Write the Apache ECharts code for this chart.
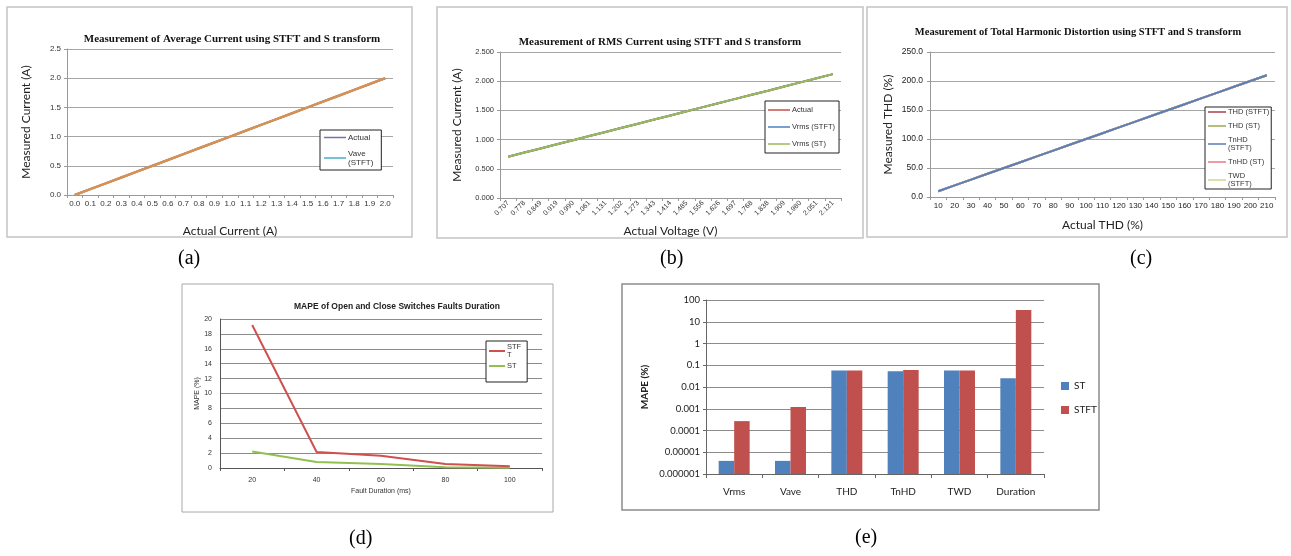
<!DOCTYPE html>
<html>
<head>
<meta charset="utf-8">
<script src="https://cdn.jsdelivr.net/npm/echarts@6/dist/echarts.min.js"></script>
<style>
html,body{margin:0;padding:0;background:#fff;}
#chart{width:1291px;height:556px;}
</style>
</head>
<body>
<div id="chart"></div>
<script>
// ---- Panel (a): Average current ----
const aCats = ['0.0','0.1','0.2','0.3','0.4','0.5','0.6','0.7','0.8','0.9','1.0','1.1','1.2','1.3','1.4','1.5','1.6','1.7','1.8','1.9','2.0'];
const aActual   = [0.0,0.1,0.2,0.3,0.4,0.5,0.6,0.7,0.8,0.9,1.0,1.1,1.2,1.3,1.4,1.5,1.6,1.7,1.8,1.9,2.0];
const aVaveSTFT = [0.0,0.1,0.2,0.3,0.4,0.5,0.6,0.7,0.8,0.9,1.0,1.1,1.2,1.3,1.4,1.5,1.6,1.7,1.8,1.9,2.0];
const aVaveST   = [0.0,0.1,0.2,0.3,0.4,0.5,0.6,0.7,0.8,0.9,1.0,1.1,1.2,1.3,1.4,1.5,1.6,1.7,1.8,1.9,2.0];

// ---- Panel (b): RMS current ----
const bCats = ['0.707','0.778','0.849','0.919','0.990','1.061','1.131','1.202','1.273','1.343','1.414','1.485','1.556','1.626','1.697','1.768','1.838','1.909','1.980','2.051','2.121'];
const bActual   = [0.707,0.778,0.849,0.919,0.990,1.061,1.131,1.202,1.273,1.343,1.414,1.485,1.556,1.626,1.697,1.768,1.838,1.909,1.980,2.051,2.121];
const bVrmsSTFT = [0.707,0.778,0.849,0.919,0.990,1.061,1.131,1.202,1.273,1.343,1.414,1.485,1.556,1.626,1.697,1.768,1.838,1.909,1.980,2.051,2.121];
const bVrmsST   = [0.707,0.778,0.849,0.919,0.990,1.061,1.131,1.202,1.273,1.343,1.414,1.485,1.556,1.626,1.697,1.768,1.838,1.909,1.980,2.051,2.121];

// ---- Panel (c): THD ----
const cCats = ['10','20','30','40','50','60','70','80','90','100','110','120','130','140','150','160','170','180','190','200','210'];
const cTHDSTFT  = [10,20,30,40,50,60,70,80,90,100,110,120,130,140,150,160,170,180,190,200,210];
const cTHDST    = [10,20,30,40,50,60,70,80,90,100,110,120,130,140,150,160,170,180,190,200,210];
const cTnHDSTFT = [10,20,30,40,50,60,70,80,90,100,110,120,130,140,150,160,170,180,190,200,210];
const cTnHDST   = [10,20,30,40,50,60,70,80,90,100,110,120,130,140,150,160,170,180,190,200,210];
const cTWDSTFT  = [10,20,30,40,50,60,70,80,90,100,110,120,130,140,150,160,170,180,190,200,210];

// ---- Panel (d): MAPE of fault duration ----
const dCats = ['20','40','60','80','100'];
const dSTFT = [19.2,2.15,1.65,0.54,0.22];
const dST   = [2.2,0.8,0.54,0.09,0.05];

// ---- Panel (e): MAPE bar chart (log) ----
const eCats = ['Vrms','Vave','THD','TnHD','TWD','Duration'];
const eST   = [0.000004,0.000004,0.057,0.053,0.057,0.025];
const eSTFT = [0.00027,0.0012,0.057,0.061,0.057,35];
// invisible stack base below the log axis minimum so bars rise from the axis floor
const eBase = [1e-8,1e-8,1e-8,1e-8,1e-8,1e-8];

const SERIF = '"Liberation Serif","Times New Roman",serif';
const SANS = '"Liberation Sans",Arial,sans-serif';
const CAL = 'Lato,"Open Sans",sans-serif';
const gridCol = '#A6A6A6';

const C = {
  aActual: '#7A6FA8', aSTFT: '#4BACC6', aST: '#D99050',
  bActual: '#C0504D', bSTFT: '#4F81BD', bST: '#9BBB59',
  cTHDSTFT: '#A9404E', cTHDST: '#9BAA50', cTnHDSTFT: '#5B7EBB', cTnHDST: '#E27C8C', cTWD: '#C8D890',
  dSTFT: '#D0504D', dST: '#92C050',
  eST: '#4F81BD', eSTFT: '#C0504D'
};

function valAxis(gi, min, max, interval, dec, name, gap, extra) {
  return Object.assign({
    type: 'value', gridIndex: gi, min: min, max: max, interval: interval,
    name: name, nameLocation: 'middle', nameGap: gap, nameRotate: 90,
    nameTextStyle: {fontFamily: CAL, fontSize: 12, color: '#222'},
    axisLine: {show: true, lineStyle: {color: '#999', width: 1}},
    axisTick: {show: true, length: 3, lineStyle: {color: '#999'}},
    axisLabel: {fontFamily: SANS, fontSize: 7.5, color: '#333', margin: 6,
      formatter: v => v.toFixed(dec)},
    splitLine: {show: true, lineStyle: {color: gridCol, width: 1}}
  }, extra || {});
}
function catAxis(gi, cats, name, gap, extra) {
  return Object.assign({
    type: 'category', gridIndex: gi, data: cats, boundaryGap: true,
    name: name, nameLocation: 'middle', nameGap: gap,
    nameTextStyle: {fontFamily: CAL, fontSize: 12, color: '#222'},
    axisLine: {show: true, lineStyle: {color: '#999', width: 1}},
    axisTick: {show: true, length: 3, lineStyle: {color: '#999'}},
    axisLabel: {interval: 0, fontFamily: SANS, fontSize: 7.5, color: '#333', margin: 5},
    splitLine: {show: false}
  }, extra || {});
}
function line(name, xi, data, color, width, z) {
  return {type: 'line', name: name, xAxisIndex: xi, yAxisIndex: xi, data: data,
    symbol: 'none', lineStyle: {color: color, width: width}, itemStyle: {color: color},
    z: z || 2, animation: false};
}
function li(name, color) {
  return {name: name, icon: 'rect', itemStyle: {color: color, borderWidth: 0}};
}

const logFmt = v => {
  const e = Math.round(Math.log10(v));
  return e < 0 ? Math.pow(10, e).toFixed(-e) : String(Math.round(Math.pow(10, e)));
};

const option = {
  backgroundColor: '#fff',
  animation: false,
  title: [
    {text: 'Measurement of Average Current using STFT and S transform', left: 232, top: 34, textAlign: 'center', padding: 0,
      textStyle: {fontFamily: SERIF, fontWeight: 'bold', fontSize: 11, color: '#111'}},
    {text: 'Measurement of RMS Current using STFT and S transform', left: 660, top: 37, textAlign: 'center', padding: 0,
      textStyle: {fontFamily: SERIF, fontWeight: 'bold', fontSize: 11, color: '#111'}},
    {text: 'Measurement of Total Harmonic Distortion using STFT and S transform', left: 1078, top: 27, textAlign: 'center', padding: 0,
      textStyle: {fontFamily: SERIF, fontWeight: 'bold', fontSize: 10.5, color: '#111'}},
    {text: 'MAPE of Open and Close Switches Faults Duration', left: 397, top: 302, textAlign: 'center', padding: 0,
      textStyle: {fontFamily: SANS, fontWeight: 'bold', fontSize: 8.5, color: '#222'}}
  ],
  grid: [
    {left: 67, top: 49, width: 326, height: 146},
    {left: 500, top: 52, width: 341, height: 146},
    {left: 930, top: 52, width: 345, height: 145},
    {left: 220, top: 319, width: 322, height: 149},
    {left: 706, top: 300, width: 338, height: 174}
  ],
  xAxis: [
    catAxis(0, aCats, 'Actual Current (A)', 30, {axisLabel: {interval: 0, fontFamily: SANS, fontSize: 8, color: '#333', margin: 5}}),
    catAxis(1, bCats, 'Actual Voltage (V)', 27, {axisLabel: {interval: 0, rotate: 45, fontFamily: SANS, fontSize: 7, color: '#333', margin: 4}}),
    catAxis(2, cCats, 'Actual THD (%)', 22, {axisLabel: {interval: 0, fontFamily: SANS, fontSize: 8, color: '#222', margin: 5}}),
    catAxis(3, dCats, 'Fault Duration (ms)', 20, {
      nameTextStyle: {fontFamily: SANS, fontSize: 7, color: '#333'},
      axisLine: {show: true, lineStyle: {color: '#555', width: 1}},
      axisTick: {show: true, length: 3, lineStyle: {color: '#555'}},
      axisLabel: {interval: 0, fontFamily: SANS, fontSize: 7, color: '#333', margin: 9}}),
    catAxis(4, eCats, '', 0, {
      axisLine: {show: true, lineStyle: {color: '#666', width: 1}},
      axisTick: {show: true, length: 4, lineStyle: {color: '#666'}},
      axisLabel: {interval: 0, fontFamily: CAL, fontSize: 10, color: '#222', margin: 13}})
  ],
  yAxis: [
    valAxis(0, 0, 2.5, 0.5, 1, 'Measured Current (A)', 35, {axisLabel: {fontFamily: SANS, fontSize: 8, color: '#333', margin: 6, formatter: v => v.toFixed(1)}}),
    valAxis(1, 0, 2.5, 0.5, 3, 'Measured Current (A)', 37),
    valAxis(2, 0, 250, 50, 1, 'Measured THD (%)', 36, {axisLabel: {fontFamily: SANS, fontSize: 8.5, color: '#222', margin: 7, formatter: v => v.toFixed(1)}}),
    valAxis(3, 0, 20, 2, 0, 'MAPE (%)', 16, {
      nameTextStyle: {fontFamily: SANS, fontSize: 7, color: '#333'},
      axisLine: {show: true, lineStyle: {color: '#555'}},
      axisTick: {show: false},
      axisLabel: {fontFamily: SANS, fontSize: 7, color: '#333', margin: 8, formatter: v => String(v)},
      splitLine: {show: true, lineStyle: {color: '#8C8C8C', width: 1}}}),
    {type: 'log', gridIndex: 4, logBase: 10, min: 0.000001, max: 100, splitNumber: 8,
      name: 'MAPE (%)', nameLocation: 'middle', nameGap: 56, nameRotate: 90,
      nameTextStyle: {fontFamily: CAL, fontSize: 10, fontWeight: 'bold', color: '#222'},
      axisLine: {show: true, lineStyle: {color: '#666'}},
      axisTick: {show: true, length: 3, lineStyle: {color: '#666'}},
      axisLabel: {fontFamily: CAL, fontSize: 9.5, color: '#222', margin: 6, formatter: logFmt},
      splitLine: {show: true, lineStyle: {color: '#8C8C8C', width: 1}}}
  ],
  legend: [
    {data: [li('Actual', C.aActual), li('Vave (STFT)', C.aSTFT)], left: 320, top: 130, orient: 'vertical',
      backgroundColor: '#fff', borderColor: '#222', borderWidth: 1, padding: [3, 8, 3, 4], itemGap: 7,
      itemWidth: 22, itemHeight: 1.5,
      formatter: n => n === 'Vave (STFT)' ? 'Vave\n(STFT)' : n,
      textStyle: {fontFamily: SANS, fontSize: 8, color: '#333', padding: [0, 0, 0, -3], lineHeight: 9}},
    {data: [li('Actual', C.bActual), li('Vrms (STFT)', C.bSTFT), li('Vrms (ST)', C.bST)], left: 765, top: 101, orient: 'vertical',
      backgroundColor: '#fff', borderColor: '#222', borderWidth: 1, padding: [5, 4, 5, 3], itemGap: 9,
      itemWidth: 22, itemHeight: 1.5,
      textStyle: {fontFamily: SANS, fontSize: 7.5, color: '#333', padding: [0, 0, 0, -3]}},
    {data: [li('THD (STFT)', C.cTHDSTFT), li('THD (ST)', C.cTHDST), li('TnHD (STFT)', C.cTnHDSTFT), li('TnHD (ST)', C.cTnHDST), li('TWD (STFT)', C.cTWD)],
      left: 1205, top: 107, orient: 'vertical',
      backgroundColor: '#fff', borderColor: '#222', borderWidth: 1, padding: [1, 2, 1, 3], itemGap: 6,
      itemWidth: 18, itemHeight: 1.5,
      formatter: n => (n === 'TnHD (STFT)' ? 'TnHD\n(STFT)' : (n === 'TWD (STFT)' ? 'TWD\n(STFT)' : n)),
      textStyle: {fontFamily: SANS, fontSize: 7.5, color: '#333', padding: [0, 0, 0, -3], lineHeight: 8}},
    {data: [li('STFT', C.dSTFT), li('ST', C.dST)], left: 486, top: 341, orient: 'vertical',
      backgroundColor: '#fff', borderColor: '#222', borderWidth: 1, padding: [2, 6, 12, 3], itemGap: 3,
      itemWidth: 16, itemHeight: 2,
      formatter: n => n === 'STFT' ? 'STF\nT' : n,
      textStyle: {fontFamily: SANS, fontSize: 7.5, color: '#333', padding: [0, 0, 0, -3], lineHeight: 8}},
    {data: [li('ST', C.eST), li('STFT', C.eSTFT)], left: 1056, top: 376, orient: 'vertical', itemGap: 14,
      itemWidth: 8, itemHeight: 8,
      textStyle: {fontFamily: CAL, fontSize: 10, color: '#222'}}
  ],
  series: [
    line('Actual', 0, aActual, C.aActual, 2, 2),
    line('Vave (STFT)', 0, aVaveSTFT, C.aSTFT, 2, 3),
    line('Vave (ST)', 0, aVaveST, C.aST, 2.5, 4),

    line('Actual', 1, bActual, C.bActual, 2, 2),
    line('Vrms (STFT)', 1, bVrmsSTFT, C.bSTFT, 2, 3),
    line('Vrms (ST)', 1, bVrmsST, C.bST, 2, 4),

    line('THD (STFT)', 2, cTHDSTFT, C.cTHDSTFT, 2, 2),
    line('THD (ST)', 2, cTHDST, C.cTHDST, 2, 2),
    line('TnHD (ST)', 2, cTnHDST, C.cTnHDST, 2, 2),
    line('TWD (STFT)', 2, cTWDSTFT, C.cTWD, 2, 2),
    line('TnHD (STFT)', 2, cTnHDSTFT, C.cTnHDSTFT, 2, 5),

    line('STFT', 3, dSTFT, C.dSTFT, 2, 3),
    line('ST', 3, dST, C.dST, 2, 2),

    {type: 'bar', name: 'baseST', xAxisIndex: 4, yAxisIndex: 4, data: eBase, stack: 'st',
      itemStyle: {color: 'rgba(0,0,0,0)'}, barGap: '0%', barCategoryGap: '45%', animation: false, silent: true},
    {type: 'bar', name: 'ST', xAxisIndex: 4, yAxisIndex: 4, data: eST, stack: 'st',
      itemStyle: {color: C.eST}, barGap: '0%', barCategoryGap: '45%', animation: false},
    {type: 'bar', name: 'baseSTFT', xAxisIndex: 4, yAxisIndex: 4, data: eBase, stack: 'stft',
      itemStyle: {color: 'rgba(0,0,0,0)'}, barGap: '0%', barCategoryGap: '45%', animation: false, silent: true},
    {type: 'bar', name: 'STFT', xAxisIndex: 4, yAxisIndex: 4, data: eSTFT, stack: 'stft',
      itemStyle: {color: C.eSTFT}, barGap: '0%', barCategoryGap: '45%', animation: false}
  ],
  graphic: [
    {type: 'rect', shape: {x: 7, y: 7, width: 405, height: 230}, style: {fill: 'none', stroke: '#C4C4C4', lineWidth: 1.5}, z: -1},
    {type: 'rect', shape: {x: 437, y: 7, width: 426, height: 231}, style: {fill: 'none', stroke: '#C4C4C4', lineWidth: 1.5}, z: -1},
    {type: 'rect', shape: {x: 867, y: 7, width: 420, height: 230}, style: {fill: 'none', stroke: '#C4C4C4', lineWidth: 1.5}, z: -1},
    {type: 'rect', shape: {x: 182, y: 284, width: 371, height: 228}, style: {fill: 'none', stroke: '#A8A8A8', lineWidth: 1}, z: -1},
    {type: 'rect', shape: {x: 622, y: 284, width: 477, height: 226}, style: {fill: 'none', stroke: '#8C8C8C', lineWidth: 1.5}, z: -1},
    {type: 'text', left: 178, top: 249, style: {text: '(a)', font: '20px ' + SERIF, fill: '#000'}},
    {type: 'text', left: 660, top: 249, style: {text: '(b)', font: '20px ' + SERIF, fill: '#000'}},
    {type: 'text', left: 1130, top: 249, style: {text: '(c)', font: '20px ' + SERIF, fill: '#000'}},
    {type: 'text', left: 349, top: 529, style: {text: '(d)', font: '20px ' + SERIF, fill: '#000'}},
    {type: 'text', left: 855, top: 528, style: {text: '(e)', font: '20px ' + SERIF, fill: '#000'}}
  ]
};

const chart = echarts.init(document.getElementById('chart'), null, {renderer: 'canvas'});
chart.setOption(option);
</script>
</body>
</html>
